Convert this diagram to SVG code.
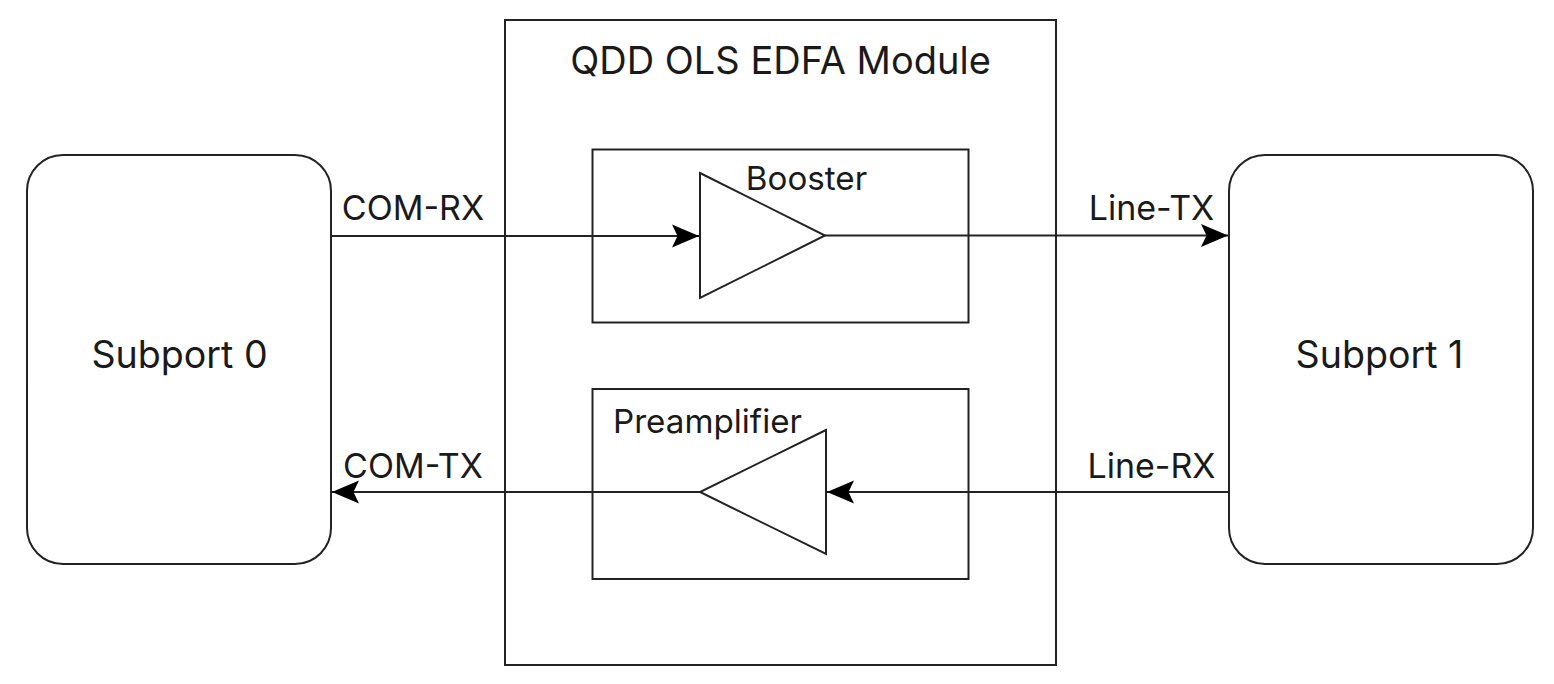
<svg xmlns="http://www.w3.org/2000/svg" width="1554" height="684" viewBox="0 0 1554 684">
<style>
.s{fill:#fff;stroke:#222;stroke-width:2}
.n{fill:none;stroke:#222;stroke-width:2}
text{font-family:Inter,"Liberation Sans",sans-serif;fill:#1a1a1a;text-anchor:middle}
.t{font-size:38px}
.l{font-size:37.6px}
.m{font-size:33.2px}
.c{font-size:34px}
</style>
<defs><marker id="a" markerUnits="userSpaceOnUse" markerWidth="28" markerHeight="26" refX="27" refY="13" orient="auto"><path d="M0 1.500L27 13L0 24.500L5.500 13Z" fill="#000"/></marker></defs>
<rect width="1554" height="684" fill="#fff"/>
<g id="module"><rect class="s" x="505" y="20" width="551" height="645"/><text class="t" x="780.500" y="73.500">QDD OLS EDFA Module</text></g>
<g id="booster"><rect class="s" x="592.500" y="149.500" width="376" height="173"/><path class="s" d="M700 173L825 235.500L700 298Z"/><text class="m" x="806.500" y="189.500">Booster</text></g>
<g id="preamplifier"><rect class="s" x="592.500" y="389" width="376" height="190"/><path class="s" d="M826 430L700 492L826 554Z"/><text class="m" x="707.500" y="433">Preamplifier</text></g>
<g id="subport0"><rect class="s" x="27" y="155" width="304" height="409" rx="36"/><text class="l" x="179.500" y="368">Subport 0</text></g>
<g id="subport1"><rect class="s" x="1229" y="155" width="304" height="409" rx="36"/><text class="l" x="1379.500" y="368">Subport 1</text></g>
<g id="connectors">
<path class="n" d="M331 236H699" marker-end="url(#a)"/>
<path class="n" d="M825 235.500H1228" marker-end="url(#a)"/>
<path class="n" d="M1229 492H827" marker-end="url(#a)"/>
<path class="n" d="M700 492H332" marker-end="url(#a)"/>
</g>
<g id="labels">
<text class="c" x="413" y="220">COM-RX</text>
<text class="c" x="1151.500" y="220">Line-TX</text>
<text class="c" x="413" y="478">COM-TX</text>
<text class="c" x="1151.500" y="478">Line-RX</text>
</g>
</svg>
